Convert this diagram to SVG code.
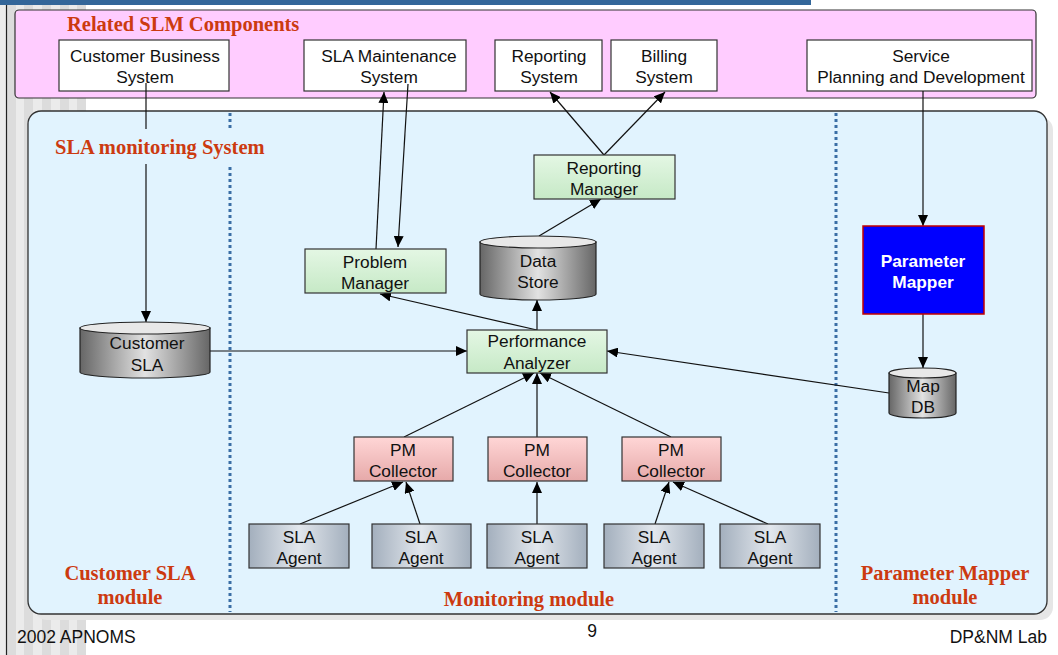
<svg xmlns="http://www.w3.org/2000/svg" width="1058" height="655" viewBox="0 0 1058 655">
  <style>
    .lbl { font-family: "Liberation Sans", Arial, sans-serif; font-size: 17.3px; fill: #111; text-anchor: middle; }
    .wlbl { font-family: "Liberation Sans", Arial, sans-serif; font-size: 17.3px; font-weight: bold; fill: #fff; text-anchor: middle; }
    .head { font-family: "Liberation Serif", "Times New Roman", serif; font-size: 20.5px; font-weight: bold; fill: #cc3a10; }
    .foot { font-family: "Liberation Sans", Arial, sans-serif; font-size: 17.5px; fill: #111; }
    .box { fill: #fff; stroke: #333; stroke-width: 1.2; }
    .green { fill: url(#gGreen); stroke: #333; stroke-width: 1.2; }
    .pink { fill: url(#gPink); stroke: #333; stroke-width: 1.2; }
    .agent { fill: url(#gAgent); stroke: #333; stroke-width: 1.2; }
    .cyl { fill: url(#gCyl); stroke: #222; stroke-width: 1.2; }
    .cyltop { fill: #e8e8e8; stroke: #222; stroke-width: 1.2; }
    .edge { stroke: #111; stroke-width: 1.2; fill: none; marker-end: url(#arr); }
    .sep { stroke: #3a6ea5; stroke-width: 3; stroke-dasharray: 3 3; }
  </style>
  <defs>
    <marker id="arr" markerUnits="userSpaceOnUse" markerWidth="11" markerHeight="10" refX="11" refY="5" orient="auto">
      <path d="M0,0 L11,5 L0,10 Z" fill="#000"/>
    </marker>
    <linearGradient id="gGreen" x1="0" y1="0" x2="0" y2="1">
      <stop offset="0" stop-color="#e4f7e4"/>
      <stop offset="1" stop-color="#c6e9c6"/>
    </linearGradient>
    <linearGradient id="gPink" x1="0" y1="0" x2="0" y2="1">
      <stop offset="0" stop-color="#ffd6d6"/>
      <stop offset="1" stop-color="#e6a9a9"/>
    </linearGradient>
    <linearGradient id="gAgent" x1="0" y1="0" x2="1" y2="0">
      <stop offset="0" stop-color="#a3afbd"/>
      <stop offset="0.5" stop-color="#e2e7ed"/>
      <stop offset="1" stop-color="#a3afbd"/>
    </linearGradient>
    <linearGradient id="gCyl" x1="0" y1="0" x2="1" y2="0">
      <stop offset="0" stop-color="#666"/>
      <stop offset="0.5" stop-color="#e2e2e2"/>
      <stop offset="1" stop-color="#666"/>
    </linearGradient>
  </defs>

  <!-- slide background -->
  <rect x="0" y="0" width="1058" height="655" fill="#fff"/>
  <rect x="0" y="0" width="7" height="655" fill="#ececec"/>
  <g fill="#dcdcdc">
    <rect x="7" y="5" width="9" height="650"/>
    <rect x="24" y="5" width="9" height="650"/>
    <rect x="42" y="5" width="9" height="650"/>
    <rect x="60" y="5" width="9" height="650"/>
    <rect x="77" y="5" width="9" height="650"/>
  </g>
  <g fill="#ebebeb">
    <rect x="16" y="5" width="8" height="650"/>
    <rect x="33" y="5" width="9" height="650"/>
    <rect x="51" y="5" width="9" height="650"/>
    <rect x="69" y="5" width="8" height="650"/>
  </g>
  <line x1="6.5" y1="0" x2="6.5" y2="655" stroke="#222" stroke-width="1.2"/>
  <rect x="0" y="0" width="811" height="5" fill="#336699"/>

  <!-- Related SLM Components band -->
  <g id="slm-band">
    <rect x="15" y="10" width="1021" height="88" rx="4" fill="#ffccff" stroke="#333" stroke-width="1.2"/>
    <text class="head" x="67" y="31">Related SLM Components</text>
  </g>
  <g id="customer-business">
    <rect class="box" x="59" y="40" width="170" height="51"/>
    <text class="lbl" x="145" y="62">Customer Business</text>
    <text class="lbl" x="145" y="83">System</text>
  </g>
  <g id="sla-maintenance">
    <rect class="box" x="304" y="40" width="162" height="51"/>
    <text class="lbl" x="389" y="62">SLA Maintenance</text>
    <text class="lbl" x="389" y="83">System</text>
  </g>
  <g id="reporting-system">
    <rect class="box" x="495" y="40" width="107" height="51"/>
    <text class="lbl" x="549" y="62">Reporting</text>
    <text class="lbl" x="549" y="83">System</text>
  </g>
  <g id="billing-system">
    <rect class="box" x="611" y="40" width="106" height="51"/>
    <text class="lbl" x="664" y="62">Billing</text>
    <text class="lbl" x="664" y="83">System</text>
  </g>
  <g id="service-planning">
    <rect class="box" x="807" y="40" width="225" height="51"/>
    <text class="lbl" x="921" y="62">Service</text>
    <text class="lbl" x="921" y="83">Planning and Development</text>
  </g>

  <!-- SLA monitoring system panel -->
  <g id="monitoring-panel">
    <rect x="34" y="117" width="1019" height="503" rx="13" fill="#e6e6e6"/>
    <rect x="28" y="111" width="1019" height="503" rx="13" fill="#e1f3fe" stroke="#333" stroke-width="1.3"/>
    <line class="sep" x1="230" y1="113" x2="230" y2="612"/>
    <line class="sep" x1="836" y1="113" x2="836" y2="612"/>
  </g>

  <!-- connectors -->
  <g id="connectors">
    <line class="edge" x1="146" y1="83" x2="146" y2="322"/>
    <line class="edge" x1="210" y1="351" x2="467" y2="351"/>
    <line class="edge" x1="376" y1="249" x2="384" y2="92"/>
    <line class="edge" x1="408" y1="84" x2="398" y2="247"/>
    <line class="edge" x1="537" y1="330" x2="537" y2="300"/>
    <line class="edge" x1="537" y1="330" x2="380" y2="294"/>
    <line class="edge" x1="539" y1="236" x2="601" y2="199"/>
    <line class="edge" x1="604" y1="155" x2="550" y2="92"/>
    <line class="edge" x1="604" y1="155" x2="665" y2="92"/>
    <line class="edge" x1="923" y1="91" x2="923" y2="226"/>
    <line class="edge" x1="923" y1="314" x2="923" y2="368"/>
    <line class="edge" x1="889" y1="393" x2="607" y2="351"/>
    <line class="edge" x1="404" y1="437" x2="534" y2="373"/>
    <line class="edge" x1="537" y1="437" x2="537" y2="373"/>
    <line class="edge" x1="671" y1="437" x2="540" y2="373"/>
    <line class="edge" x1="300" y1="524" x2="403" y2="482"/>
    <line class="edge" x1="420" y1="524" x2="406" y2="482"/>
    <line class="edge" x1="537" y1="524" x2="537" y2="482"/>
    <line class="edge" x1="655" y1="524" x2="669" y2="482"/>
    <line class="edge" x1="768" y1="524" x2="673" y2="482"/>
  </g>

  <!-- panel heading sits on a plate that interrupts the lines beneath -->
  <g id="panel-heading">
    <rect x="48" y="129" width="226" height="35" fill="#e1f3fe"/>
    <text class="head" x="55" y="154">SLA monitoring System</text>
  </g>

  <g id="customer-sla">
    <path class="cyl" d="M80,328 L80,372 A65,6 0 0 0 210,372 L210,328 Z"/>
    <ellipse class="cyltop" cx="145" cy="328" rx="65" ry="6"/>
    <text class="lbl" x="147" y="349">Customer</text>
    <text class="lbl" x="147" y="371">SLA</text>
  </g>
  <g id="problem-manager">
    <rect class="green" x="305" y="249" width="141" height="44"/>
    <text class="lbl" x="375" y="268">Problem</text>
    <text class="lbl" x="375" y="289">Manager</text>
  </g>
  <g id="data-store">
    <path class="cyl" d="M480,242 L480,294 A58,6 0 0 0 596,294 L596,242 Z"/>
    <ellipse class="cyltop" cx="538" cy="242" rx="58" ry="6"/>
    <text class="lbl" x="538" y="267">Data</text>
    <text class="lbl" x="538" y="288">Store</text>
  </g>
  <g id="reporting-manager">
    <rect class="green" x="534" y="155" width="141" height="44"/>
    <text class="lbl" x="604" y="174">Reporting</text>
    <text class="lbl" x="604" y="195">Manager</text>
  </g>
  <g id="performance-analyzer">
    <rect class="green" x="467" y="330" width="140" height="43"/>
    <text class="lbl" x="537" y="347">Performance</text>
    <text class="lbl" x="537" y="369">Analyzer</text>
  </g>
  <g id="parameter-mapper">
    <rect x="863" y="226" width="121" height="88" fill="#0000ff" stroke="#c00000" stroke-width="1.5"/>
    <text class="wlbl" x="923" y="267">Parameter</text>
    <text class="wlbl" x="923" y="288">Mapper</text>
  </g>
  <g id="map-db">
    <path class="cyl" d="M889,373 L889,413 A33.5,5 0 0 0 956,413 L956,373 Z"/>
    <ellipse class="cyltop" cx="922.5" cy="373" rx="33.5" ry="5"/>
    <text class="lbl" x="923" y="392">Map</text>
    <text class="lbl" x="923" y="413">DB</text>
  </g>

  <g id="pm-collector-1">
    <rect class="pink" x="354" y="437" width="99" height="44"/>
    <text class="lbl" x="403" y="456">PM</text>
    <text class="lbl" x="403" y="477">Collector</text>
  </g>
  <g id="pm-collector-2">
    <rect class="pink" x="488" y="437" width="99" height="44"/>
    <text class="lbl" x="537" y="456">PM</text>
    <text class="lbl" x="537" y="477">Collector</text>
  </g>
  <g id="pm-collector-3">
    <rect class="pink" x="622" y="437" width="99" height="44"/>
    <text class="lbl" x="671" y="456">PM</text>
    <text class="lbl" x="671" y="477">Collector</text>
  </g>

  <g id="sla-agent-1">
    <rect class="agent" x="249" y="524" width="100" height="44"/>
    <text class="lbl" x="299" y="543">SLA</text>
    <text class="lbl" x="299" y="564">Agent</text>
  </g>
  <g id="sla-agent-2">
    <rect class="agent" x="372" y="524" width="99" height="44"/>
    <text class="lbl" x="421" y="543">SLA</text>
    <text class="lbl" x="421" y="564">Agent</text>
  </g>
  <g id="sla-agent-3">
    <rect class="agent" x="487" y="524" width="100" height="44"/>
    <text class="lbl" x="537" y="543">SLA</text>
    <text class="lbl" x="537" y="564">Agent</text>
  </g>
  <g id="sla-agent-4">
    <rect class="agent" x="604" y="524" width="100" height="44"/>
    <text class="lbl" x="654" y="543">SLA</text>
    <text class="lbl" x="654" y="564">Agent</text>
  </g>
  <g id="sla-agent-5">
    <rect class="agent" x="720" y="524" width="100" height="44"/>
    <text class="lbl" x="770" y="543">SLA</text>
    <text class="lbl" x="770" y="564">Agent</text>
  </g>

  <!-- module captions -->
  <g id="module-captions">
    <text class="head" x="130" y="580" text-anchor="middle">Customer SLA</text>
    <text class="head" x="130" y="604" text-anchor="middle">module</text>
    <text class="head" x="529" y="606" text-anchor="middle">Monitoring module</text>
    <text class="head" x="945" y="580" text-anchor="middle">Parameter Mapper</text>
    <text class="head" x="945" y="604" text-anchor="middle">module</text>
  </g>

  <!-- footer -->
  <g id="footer">
    <text class="foot" x="17" y="643">2002 APNOMS</text>
    <text class="foot" x="592" y="637" text-anchor="middle">9</text>
    <text class="foot" x="1047" y="643" text-anchor="end">DP&amp;NM Lab</text>
  </g>
</svg>
